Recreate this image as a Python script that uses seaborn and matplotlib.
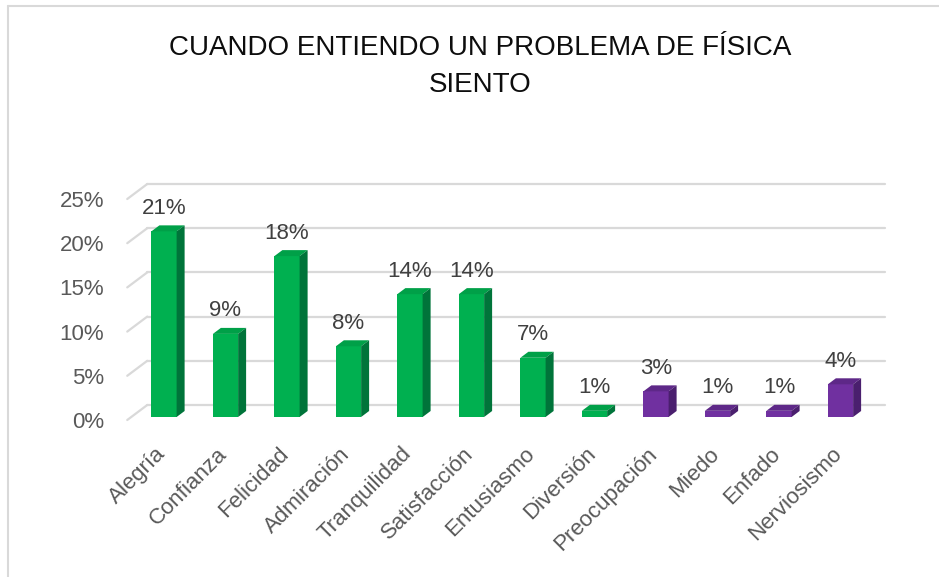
import matplotlib
matplotlib.use("Agg")
import matplotlib.pyplot as plt
from matplotlib.patches import Polygon
from matplotlib.lines import Line2D
from matplotlib.transforms import ScaledTranslation
import seaborn as sns
import pandas as pd

categorias = ["Alegría", "Confianza", "Felicidad", "Admiración", "Tranquilidad",
              "Satisfacción", "Entusiasmo", "Diversión", "Preocupación", "Miedo",
              "Enfado", "Nerviosismo"]
porcentajes = [21.0, 9.4, 18.2, 8.0, 13.9, 13.9, 6.7, 0.7, 2.9, 0.7, 0.7, 3.7]
tipo = ["pos"] * 8 + ["neg"] * 4
ticks_y = [0, 5, 10, 15, 20, 25]
titulo = "CUANDO ENTIENDO UN PROBLEMA DE FÍSICA\nSIENTO"

col_front = {"pos": "#00B050", "neg": "#7030A0"}
col_top = {"pos": "#00A048", "neg": "#5E2888"}
col_side = {"pos": "#00743A", "neg": "#4A1F6E"}

sns.set_style("white")
plt.rcParams["font.family"] = ["Liberation Sans", "DejaVu Sans"]

W, H = 939, 577
fig = plt.figure(figsize=(W / 100, H / 100), dpi=100)
fig.patch.set_facecolor("white")
ax_left, ax_bottom, ax_w, ax_h = 133.25, 160, 738, 221
ax = fig.add_axes([ax_left / W, ax_bottom / H, ax_w / W, ax_h / H])

df = pd.DataFrame({"cat": categorias, "val": porcentajes, "tipo": tipo})
palette = {c: col_front[t] for c, t in zip(categorias, tipo)}
sns.barplot(data=df, x="cat", y="val", hue="cat", palette=palette, legend=False,
            width=0.41, linewidth=0, saturation=1, ax=ax, zorder=3)

ax.set_xlim(-0.5, len(categorias) - 0.5)
ax.set_ylim(0, 25)
ax.set_xlabel("")
ax.set_ylabel("")
for s in ax.spines.values():
    s.set_visible(False)
ax.set_facecolor("none")

# pixel conversions from axes
px_x = ax_w / (len(categorias))
px_y = ax_h / 25.0
ddx, ddy = 8 / px_x, 6 / px_y

# 3D faces
rects = [c.patches[0] for c in ax.containers]
for rect, t in zip(rects, tipo):
    x0, w, h = rect.get_x(), rect.get_width(), rect.get_height()
    top = Polygon([(x0, h), (x0 + ddx, h + ddy), (x0 + w + ddx, h + ddy), (x0 + w, h)],
                  closed=True, facecolor=col_top[t], edgecolor="none", zorder=3, clip_on=False)
    side = Polygon([(x0 + w, 0), (x0 + w, h), (x0 + w + ddx, h + ddy), (x0 + w + ddx, ddy)],
                   closed=True, facecolor=col_side[t], edgecolor="none", zorder=3, clip_on=False)
    ax.add_patch(top)
    ax.add_patch(side)

# data labels
for c in ax.containers:
    ax.bar_label(c, fmt=lambda v: f"{v:.0f}%", padding=9, fontsize=16, color="#404040")

# back gridlines with offset
off = ScaledTranslation(14 / 100, 12 / 100, fig.dpi_scale_trans)
for v in ticks_y:
    ax.plot([-0.5, len(categorias) - 0.5], [v, v], color="#D9D9D9", lw=1.6,
            transform=ax.transData + off, zorder=1, clip_on=False)
    p = ax.transData.transform((-0.5, v))
    fig.add_artist(Line2D([p[0] - 6, p[0] + 14], [p[1] - 3, p[1] + 12], color="#D9D9D9",
                          lw=1.6, transform=None))

ax.set_yticks(ticks_y)
ax.set_yticklabels([f"{v}%" for v in ticks_y])
ax.tick_params(axis="y", length=0, pad=21, labelsize=16, labelcolor="#595959")
lbl_off = ScaledTranslation(0, -3 / 100, fig.dpi_scale_trans)
for lb in ax.get_yticklabels():
    lb.set_transform(lb.get_transform() + lbl_off)

ax.tick_params(axis="x", length=0, pad=19, labelsize=16, labelcolor="#595959")
xl_off = ScaledTranslation(-9 / 100, 0, fig.dpi_scale_trans)
for lb in ax.get_xticklabels():
    lb.set_rotation(45)
    lb.set_ha("right")
    lb.set_va("top")
    lb.set_rotation_mode("anchor")
    lb.set_transform(lb.get_transform() + xl_off)

fig.text(480 / W, 1 - 66.5 / H, titulo, ha="center", va="center", fontsize=20,
         color="#0D0D0D", linespacing=1.55)

# chart border
fig.add_artist(Line2D([8 / W, 8 / W], [0, 1 - 6 / H], color="#D9D9D9", lw=1.5))
fig.add_artist(Line2D([8 / W, 1], [1 - 6 / H, 1 - 6 / H], color="#D9D9D9", lw=1.5))

fig.savefig("out.png", dpi=100, facecolor="white")
